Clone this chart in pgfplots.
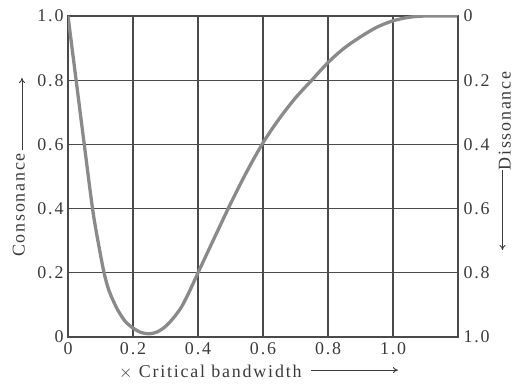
\documentclass[border=0pt]{standalone}
\usepackage{pgfplots}
\pgfplotsset{compat=1.18}
\usetikzlibrary{arrows.meta}
\usepackage{fontspec}
\setmainfont[LetterSpace=10]{Liberation Serif}
\definecolor{inkc}{HTML}{3A3A3A}
\definecolor{gridc}{HTML}{4A4A4A}
\definecolor{curvec}{HTML}{8A8A8A}
\begin{document}
\begin{tikzpicture}
\pgfplotsset{
  common/.style={
    scale only axis, width=390bp, height=321bp,
    xmin=0, xmax=1.2, ymin=0, ymax=1,
    /pgf/number format/assume math mode=true,
    tick style={draw=none},
    ticklabel style={font=\fontsize{18}{20}\selectfont, text=inkc},
    label style={font=\fontsize{18}{20}\selectfont, text=inkc},
    axis line style={draw=gridc, line width=1.1pt},
  }
}
\begin{axis}[common,
  xtick={0,0.2,0.4,0.6,0.8,1.0},
  xticklabels={0,0.2,0.4,0.6,0.8,1.0},
  ytick={0,0.2,0.4,0.6,0.8,1.0},
  yticklabels={0,0.2,0.4,0.6,0.8,1.0},
  grid=major,
  major grid style={draw=gridc, line width=1.1pt},
  xticklabel style={yshift=-2bp},
  yticklabel style={xshift=-1bp},
  xlabel={$\times$ Critical bandwidth},
  xlabel style={at={(axis description cs:0.365,-0.109)}, anchor=center},
  ylabel={Consonance},
  ylabel style={at={(axis description cs:-0.126,0.411)}, anchor=center},
]
\addplot[curvec, line width=3.3pt, smooth, tension=0.5] coordinates {
(0,1.0) (0.0125,0.9) (0.025,0.8) (0.05,0.6) (0.0755,0.4) (0.092,0.3)
(0.111,0.2) (0.126,0.145) (0.15,0.09) (0.175,0.05) (0.2,0.028)
(0.225,0.014) (0.25,0.01) (0.275,0.016) (0.3,0.033) (0.325,0.06)
(0.35,0.095) (0.375,0.145) (0.4,0.2) (0.45,0.308) (0.5,0.415)
(0.55,0.515) (0.6,0.605) (0.65,0.68) (0.7,0.745) (0.75,0.8)
(0.8,0.855) (0.85,0.9) (0.9,0.935) (0.95,0.965) (1.0,0.985)
(1.05,0.996) (1.1,1.0) (1.2,1.0)
};
\end{axis}
\begin{axis}[common,
  axis x line=none,
  axis y line*=right,
  clip=false,
  ytick={0,0.2,0.4,0.6,0.8,1.0},
  yticklabels={1.0,0.8,0.6,0.4,0.2,0},
  yticklabel style={xshift=2bp},
]
\node[rotate=90, anchor=center, text=inkc, font=\fontsize{18}{20}\selectfont]
  at (axis description cs:1.12,0.673) {Dissonance};
\draw[-{To[length=5bp,width=6bp]}, line width=0.9pt, draw=inkc]
  (axis description cs:-0.118,0.583) -- (axis description cs:-0.118,0.807);
\draw[-{To[length=5bp,width=6bp]}, line width=0.9pt, draw=inkc]
  (axis description cs:1.114,0.519) -- (axis description cs:1.114,0.271);
\draw[-{To[length=5bp,width=6bp]}, line width=0.9pt, draw=inkc]
  (axis description cs:0.622,-0.103) -- (axis description cs:0.846,-0.103);
\end{axis}
\pgfresetboundingbox
\path (current axis.south west) ++(-68bp,-47bp) rectangle ++(523bp,384bp);
\end{tikzpicture}
\end{document}
